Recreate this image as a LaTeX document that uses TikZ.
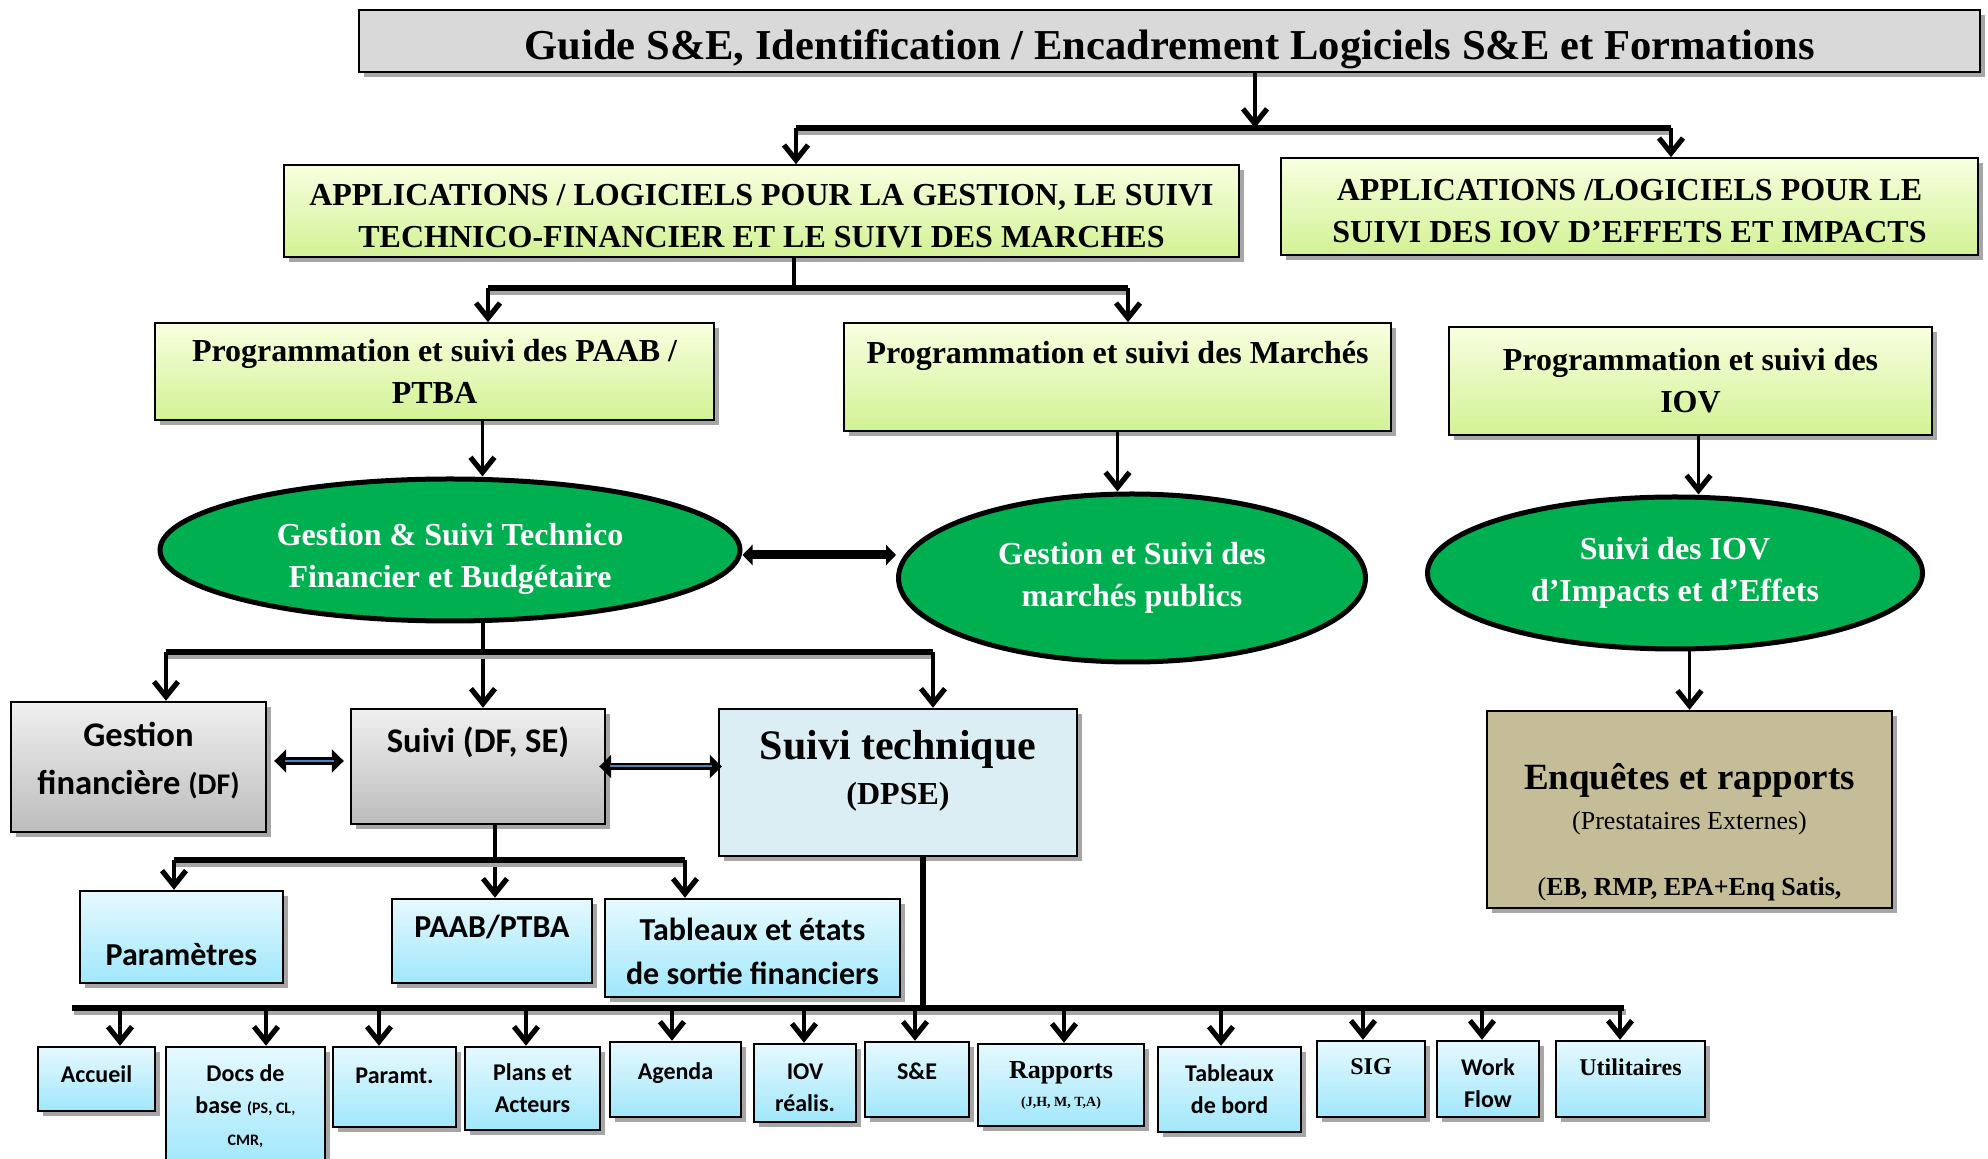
\documentclass[tikz,border=0pt]{standalone}
\usepackage{fontspec}
\setmainfont{Liberation Serif}
\newfontfamily\calib{Carlito}
\usepackage{xcolor}
\usetikzlibrary{arrows.meta, shapes.geometric, shadows}

\definecolor{appTop}{RGB}{248,255,224}
\definecolor{appBot}{RGB}{210,242,148}
\definecolor{ovalGreen}{RGB}{0,176,80}
\definecolor{titleGray}{RGB}{217,217,217}
\definecolor{grayTop}{RGB}{240,240,240}
\definecolor{grayBot}{RGB}{188,188,188}
\definecolor{blueTop}{RGB}{230,249,254}
\definecolor{blueBot}{RGB}{160,231,251}
\definecolor{techBlue}{RGB}{218,238,243}
\definecolor{enqTan}{RGB}{196,189,151}
\definecolor{stripeBlue}{RGB}{79,129,189}

\begin{document}
\begin{tikzpicture}[x=0.5pt, y=-0.5pt,
    boxShadow/.style={drop shadow={shadow xshift=2.5pt, shadow yshift=-2.5pt, fill=black!35, opacity=1}},
    titleBox/.style={rectangle, draw, line width=1.2pt, fill=titleGray, boxShadow, align=center, inner sep=0pt, font=\bfseries\fontsize{21.3}{25}\selectfont},
    appBox/.style={rectangle, draw, line width=0.8pt, top color=appTop, bottom color=appBot, boxShadow, align=center, font=\bfseries\fontsize{16}{21}\selectfont},
    greenEll/.style={ellipse, draw, line width=2.5pt, fill=ovalGreen, text=white, align=center, inner sep=0pt, font=\bfseries\fontsize{16}{21}\selectfont},
    grayBox/.style={rectangle, draw, line width=1.2pt, top color=grayTop, bottom color=grayBot, boxShadow, align=center, font=\calib\bfseries\fontsize{17.3}{24}\selectfont},
    blueBox/.style={rectangle, draw, line width=1.2pt, top color=blueTop, bottom color=blueBot, boxShadow, align=center, font=\calib\bfseries\fontsize{16}{22}\selectfont},
    leafBox/.style={blueBox, font=\calib\bfseries\fontsize{12}{16}\selectfont},
    techBox/.style={rectangle, draw, line width=1.2pt, fill=techBlue, boxShadow, align=center},
    enqBox/.style={rectangle, draw, line width=1.2pt, fill=enqTan, boxShadow, align=center},
    link/.style={line width=1.9pt, -{Straight Barb[length=7.5pt, width=12pt, line width=2.6pt]}},
    bus/.style={line width=3pt, preaction={draw=black!35, line width=3pt, transform canvas={xshift=1pt, yshift=-2pt}}},
    dblLink/.style={line width=3.6pt, {Triangle[length=6pt, width=11.5pt]}-{Triangle[length=6pt, width=11.5pt]}},
    stripe/.style={line width=1pt, draw=stripeBlue}]

  \useasboundingbox (0,0) rectangle (1988,1159);

  \node[titleBox, minimum width=810.5pt, minimum height=31pt, text height=23pt] (guide) at (1169.5,41) {Guide S\&E, Identification / Encadrement Logiciels S\&E et Formations};

  \node[appBox, minimum width=477.5pt, minimum height=46pt] (appGestion) at (761.5,211) {\rule{0pt}{16pt}APPLICATIONS / LOGICIELS POUR LA GESTION, LE SUIVI\\ TECHNICO-FINANCIER ET LE SUIVI DES MARCHES};
  \node[appBox, minimum width=348.5pt, minimum height=48.5pt] (appIov) at (1629.5,206.5) {\rule{0pt}{15pt}APPLICATIONS /LOGICIELS POUR LE\\ SUIVI DES IOV D’EFFETS ET IMPACTS};

  \node[appBox, minimum width=279.5pt, minimum height=48.5pt] (progPaab) at (434.5,371.5) {Programmation et suivi des PAAB /\\ PTBA};
  \node[appBox, minimum width=273.5pt, minimum height=54pt, text depth=25pt] (progMarches) at (1117.5,377) {Programmation et suivi des Marchés};
  \node[appBox, minimum width=241.5pt, minimum height=54pt] (progIov) at (1690.5,381) {Programmation et suivi des\\ IOV};

  \node[greenEll, minimum width=290pt, minimum height=71pt] (ellBudget) at (450,550) {\rule{0pt}{20pt}Gestion \& Suivi Technico\\ Financier et Budgétaire};
  \node[greenEll, minimum width=233.5pt, minimum height=84pt] (ellMarches) at (1132,578) {Gestion et Suivi des\\ marchés publics};
  \node[greenEll, minimum width=247.5pt, minimum height=76pt] (ellIov) at (1675,573) {Suivi des IOV\\ d’Impacts et d’Effets};

  \node[grayBox, minimum width=127.5pt, minimum height=65pt, text depth=9pt] (gestFin) at (138.5,767) {Gestion\\ financière {\fontsize{15}{24}\selectfont(DF)}};
  \node[grayBox, minimum width=127pt, minimum height=57.5pt, text depth=27pt] (suiviDf) at (478,766.5) {Suivi (DF, SE)};
  \node[techBox, minimum width=179pt, minimum height=73.5pt, text depth=15pt] (suiviTech) at (898,782.5) {{\bfseries\fontsize{21}{25}\selectfont Suivi technique}\\[6pt] {\bfseries\fontsize{16}{20}\selectfont (DPSE)}};
  \node[enqBox, minimum width=202.5pt, minimum height=98.5pt] (enquetes) at (1689.5,809.5) {\rule{0pt}{36pt}{\bfseries\fontsize{18.5}{22}\selectfont Enquêtes et rapports}\\[6pt] {\fontsize{13}{16}\selectfont (Prestataires Externes)}\\[21pt] {\fontsize{13}{16}\selectfont ({\bfseries EB, RMP, EPA+Enq Satis,}}};

  \node[blueBox, minimum width=101.5pt, minimum height=46pt, text height=29pt] (param) at (181.5,937) {Paramètres};
  \node[blueBox, minimum width=100pt, minimum height=42pt, text depth=15pt] (paab) at (492,941) {PAAB/PTBA};
  \node[blueBox, minimum width=147.5pt, minimum height=49pt] (tabFin) at (752.5,948) {\rule{0pt}{15pt}Tableaux et états\\ de sortie financiers};

  \node[leafBox, minimum width=58.5pt, minimum height=32pt, text depth=5pt] (accueil) at (96.5,1079) {Accueil};
  \node[leafBox, minimum width=79.5pt, minimum height=59pt] (docs) at (245.5,1106) {Docs de\\ base {\fontsize{8}{16}\selectfont (PS, CL,}\\ {\fontsize{8}{16}\selectfont CMR,}};
  \node[leafBox, minimum width=61.5pt, minimum height=40pt, text depth=11pt] (paramt) at (394.5,1087) {Paramt.};
  \node[leafBox, minimum width=67.5pt, minimum height=41.5pt] (plans) at (532.5,1088.5) {Plans et\\ Acteurs};
  \node[leafBox, minimum width=65.5pt, minimum height=37.5pt, text depth=8.7pt] (agenda) at (675.5,1079.5) {Agenda};
  \node[leafBox, minimum width=51pt, minimum height=39pt] (iovReal) at (805,1083) {\rule{0pt}{12.5pt}IOV\\ réalis.};
  \node[leafBox, minimum width=52pt, minimum height=37.5pt, text depth=8.7pt] (se) at (917,1079.5) {S\&E};
  \node[leafBox, minimum width=83pt, minimum height=41pt, font=\bfseries\fontsize{13}{14}\selectfont] (rapports) at (1061,1085) {Rapports\\ {\fontsize{7}{10}\selectfont (J,H, M, T,A)}};
  \node[leafBox, minimum width=71.5pt, minimum height=42.5pt] (tabBord) at (1229.5,1089.5) {Tableaux\\ de bord};
  \node[leafBox, minimum width=54pt, minimum height=38pt, text depth=12.2pt, font=\bfseries\fontsize{12}{16}\selectfont] (sig) at (1371,1079) {SIG};
  \node[leafBox, minimum width=51pt, minimum height=38pt] (workFlow) at (1488,1079) {\rule{0pt}{13pt}Work\\ Flow};
  \node[leafBox, minimum width=74.5pt, minimum height=38pt, text depth=12.2pt, font=\bfseries\fontsize{12}{16}\selectfont] (utilitaires) at (1630.5,1079) {Utilitaires};

  \coordinate (topJoin) at (1255,128);
  \coordinate (topLeft) at (796,128);
  \coordinate (topRight) at (1671,128);
  \draw[link] (guide.south -| topJoin) -- (topJoin);
  \draw[bus] (topLeft) -- (topRight);
  \draw[link] (topLeft) -- (topLeft |- appGestion.north);
  \draw[link] (topRight) -- (topRight |- appIov.north);

  \coordinate (midJoin) at (794,288);
  \coordinate (midLeft) at (488,288);
  \coordinate (midRight) at (1128,288);
  \draw[line width=1.9pt] (midJoin |- appGestion.south) -- (midJoin);
  \draw[bus] (midLeft) -- (midRight);
  \draw[link] (midLeft) -- (midLeft |- progPaab.north);
  \draw[link] (midRight) -- (midRight |- progMarches.north);

  \draw[link] ([xshift=24pt]progPaab.south) -- ([xshift=24pt]progPaab.south |- ellBudget.north);
  \draw[link] (progMarches.south) -- (progMarches.south |- ellMarches.north);
  \draw[link] ([xshift=4pt]progIov.south) -- ([xshift=4pt]progIov.south |- ellIov.north);
  \draw[link] (enquetes.north |- ellIov.south) -- (enquetes.north);

  \draw[line width=4.5pt, {Triangle[length=5pt, width=10pt]}-{Triangle[length=5pt, width=10pt]}] ([yshift=-2.5pt]ellBudget.east) -- ([yshift=-2.5pt]ellBudget.east -| ellMarches.west);

  \coordinate (lowJoin) at (483,652);
  \coordinate (lowLeft) at (166,652);
  \coordinate (lowRight) at (933,652);
  \draw[link] ([xshift=16.5pt]ellBudget.south) -- (lowJoin |- suiviDf.north);
  \draw[bus] (lowLeft) -- (lowRight);
  \draw[link] (lowLeft) -- (lowLeft |- gestFin.north);
  \draw[link] (lowRight) -- (lowRight |- suiviTech.north);

  \draw[dblLink, shorten <=3.5pt, shorten >=3pt] ([yshift=3pt]gestFin.east) -- ([yshift=3pt]gestFin.east -| suiviDf.west);
  \draw[stripe, shorten <=9pt, shorten >=8pt] ([yshift=3pt]gestFin.east) -- ([yshift=3pt]gestFin.east -| suiviDf.west);
  \draw[dblLink, shorten <=-3.5pt, shorten >=-2pt] (suiviDf.east) -- (suiviDf.east -| suiviTech.west);
  \draw[stripe, shorten <=2pt, shorten >=3pt] (suiviDf.east) -- (suiviDf.east -| suiviTech.west);

  \coordinate (dfJoin) at (495,860);
  \coordinate (dfLeft) at (174,860);
  \coordinate (dfRight) at (685,860);
  \draw[link] (dfJoin |- suiviDf.south) -- (dfJoin |- paab.north);
  \draw[bus] (dfLeft) -- (dfRight);
  \draw[link] (dfLeft) -- (dfLeft |- param.north);
  \draw[link] (dfRight) -- (dfRight |- tabFin.north);

  \coordinate (techJoin) at (923,1008);
  \coordinate (leafStart) at (72,1008);
  \coordinate (leafEnd) at (1624,1008);
  \draw[line width=3pt] (techJoin |- suiviTech.south) -- (techJoin);
  \draw[bus] (leafStart) -- (leafEnd);
  \coordinate (tapA) at (120,1008);
  \coordinate (tapB) at (266,1008);
  \coordinate (tapC) at (379,1008);
  \coordinate (tapD) at (526,1008);
  \coordinate (tapE) at (672,1008);
  \coordinate (tapF) at (804,1008);
  \coordinate (tapG) at (915,1008);
  \coordinate (tapH) at (1064,1008);
  \coordinate (tapI) at (1221,1008);
  \coordinate (tapJ) at (1363,1008);
  \coordinate (tapK) at (1482,1008);
  \coordinate (tapL) at (1620,1008);
  \draw[link] (tapA) -- (tapA |- accueil.north);
  \draw[link] (tapB) -- (tapB |- docs.north);
  \draw[link] (tapC) -- (tapC |- paramt.north);
  \draw[link] (tapD) -- (tapD |- plans.north);
  \draw[link] (tapE) -- (tapE |- agenda.north);
  \draw[link] (tapF) -- (tapF |- iovReal.north);
  \draw[link] (tapG) -- (tapG |- se.north);
  \draw[link] (tapH) -- (tapH |- rapports.north);
  \draw[link] (tapI) -- (tapI |- tabBord.north);
  \draw[link] (tapJ) -- (tapJ |- sig.north);
  \draw[link] (tapK) -- (tapK |- workFlow.north);
  \draw[link] (tapL) -- (tapL |- utilitaires.north);

\end{tikzpicture}
\end{document}
